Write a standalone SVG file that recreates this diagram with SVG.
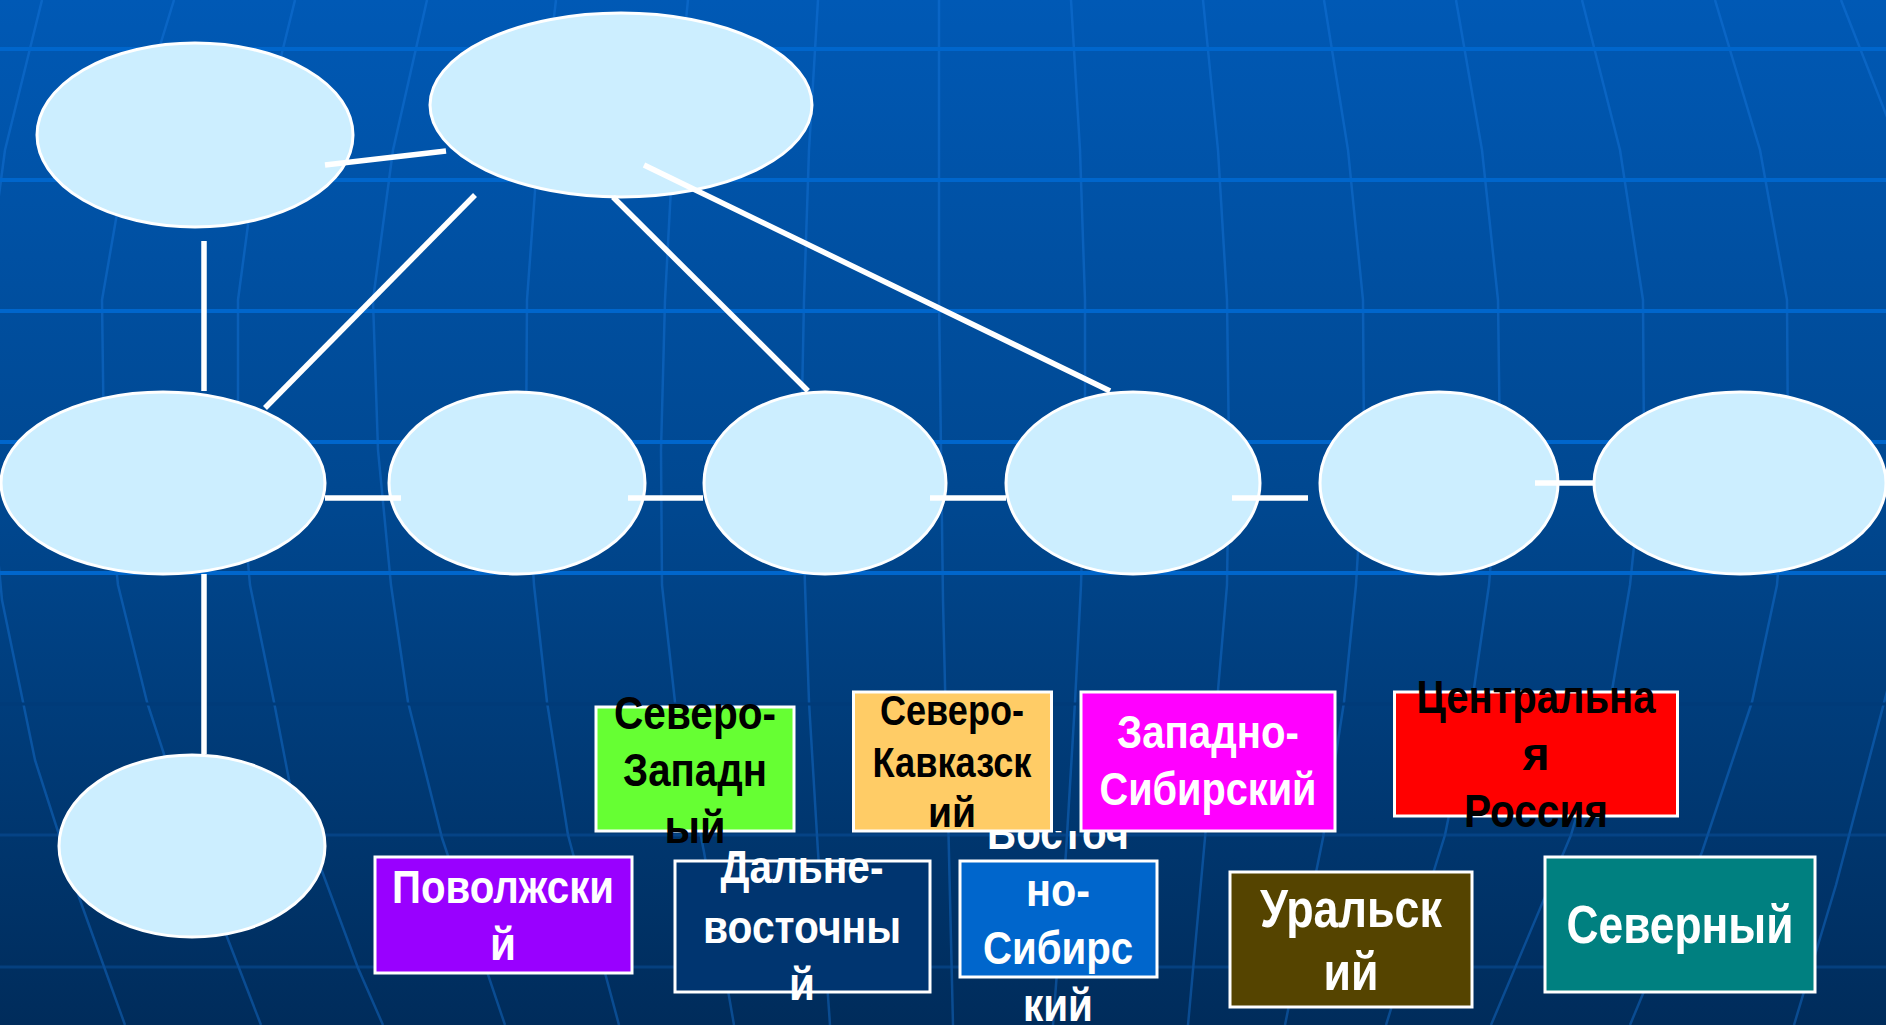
<svg xmlns="http://www.w3.org/2000/svg" width="1886" height="1025" viewBox="0 0 1886 1025">
<defs>
<linearGradient id="bg" x1="0" y1="0" x2="0" y2="1">
<stop offset="0" stop-color="#0059b5"/>
<stop offset="0.5" stop-color="#00478f"/>
<stop offset="1" stop-color="#002c5b"/>
</linearGradient>
<clipPath id="cutTop"><rect x="900" y="831" width="300" height="194"/></clipPath>
</defs>
<style>
.mer{fill:none;stroke:#1a7ae0;stroke-opacity:0.4;stroke-width:2.5;stroke-linejoin:round}
.par{stroke:#0066cc;stroke-width:4}
.par2{stroke:#0a4f99;stroke-opacity:0.55;stroke-width:3}
.ell{fill:#cceeff;stroke:#ffffff;stroke-width:3}
.con{stroke:#ffffff;stroke-width:5.5;fill:none}
.box{stroke:#ffffff;stroke-width:3}
.t{font-family:"Liberation Sans",Arial,sans-serif;font-weight:bold;text-anchor:middle}
.w{fill:#ffffff}
.k{fill:#000000}
</style>
<rect x="0" y="0" width="1886" height="1025" fill="url(#bg)"/>
<g id="grid">
<polyline class="mer" points="42,0 5,150 -15,300 -12,450 2,600 35,760 80,900 125,1025"/>
<polyline class="mer" points="174,0 128,150 102,300 104,450 118,585 147,702 205,880 261,1025"/>
<polyline class="mer" points="295,0 258,150 238,300 238,450 250,585 274,702 290,785 358,968 383,1025"/>
<polyline class="mer" points="427,0 393,150 373,300 378,450 391,585 408,702 442,838 505,1025"/>
<polyline class="mer" points="556,0 538,150 527,300 526,450 534,585 547,702 568,835 619,1025"/>
<polyline class="mer" points="688,0 673,150 665,300 661,450 662,585 675,702 704,852 734,1025"/>
<polyline class="mer" points="818,0 809,150 804,300 801,450 805,585 809,702 818,852 830,1025"/>
<polyline class="mer" points="939,0 939,300 943,600 953,1025"/>
<polyline class="mer" points="1071,0 1080,150 1085,300 1085,450 1081,585 1075,702 1066,852 1053,1025"/>
<polyline class="mer" points="1203,0 1218,150 1227,300 1229,450 1227,585 1217,702 1205,838 1188,1025"/>
<polyline class="mer" points="1324,0 1348,150 1363,300 1364,450 1356,585 1344,702 1323,838 1285,1025"/>
<polyline class="mer" points="1456,0 1482,150 1498,300 1500,450 1489,585 1472,702 1445,835 1386,1025"/>
<polyline class="mer" points="1582,0 1620,150 1643,300 1644,450 1630,585 1610,702 1571,835 1491,1025"/>
<polyline class="mer" points="1715,0 1760,150 1787,300 1788,450 1777,585 1752,702 1702,852 1630,1025"/>
<polyline class="mer" points="1841,0 1900,150 1930,300 1930,450 1915,585 1890,680 1836,885 1794,1025"/>
<line class="par" x1="0" y1="49" x2="1886" y2="49"/>
<line class="par" x1="0" y1="180" x2="1886" y2="180"/>
<line class="par" x1="0" y1="311" x2="1886" y2="311"/>
<line class="par" x1="0" y1="442" x2="1886" y2="442"/>
<line class="par" x1="0" y1="573" x2="1886" y2="573"/>
<line x1="0" y1="704" x2="1886" y2="704" stroke="#003b79" stroke-width="3"/>
<line class="par2" x1="0" y1="835" x2="1886" y2="835"/>
<line class="par2" x1="0" y1="967" x2="1886" y2="967"/>
</g>
<g id="n-a"><ellipse class="ell" cx="195" cy="135" rx="158" ry="92"/></g>
<g id="n-b"><ellipse class="ell" cx="621" cy="105" rx="191" ry="92" stroke-width="4"/></g>
<g id="n-c"><ellipse class="ell" cx="163" cy="483" rx="162" ry="91"/></g>
<g id="n-d"><ellipse class="ell" cx="517" cy="483" rx="128" ry="91"/></g>
<g id="n-e"><ellipse class="ell" cx="825" cy="483" rx="121" ry="91"/></g>
<g id="n-f"><ellipse class="ell" cx="1133" cy="483" rx="127" ry="91"/></g>
<g id="n-g"><ellipse class="ell" cx="1439" cy="483" rx="119" ry="91"/></g>
<g id="n-h"><ellipse class="ell" cx="1740" cy="483" rx="146" ry="91"/></g>
<g id="n-i"><ellipse class="ell" cx="192" cy="846" rx="133" ry="91"/></g>
<g id="connectors">
<line class="con" x1="325" y1="165" x2="446" y2="151" stroke-width="6"/>
<line class="con" x1="204" y1="241" x2="204" y2="391"/>
<line class="con" x1="475" y1="195" x2="265" y2="408"/>
<line class="con" x1="613" y1="197" x2="808" y2="391"/>
<line class="con" x1="644" y1="165" x2="1110" y2="391"/>
<line class="con" x1="204" y1="574" x2="204" y2="754"/>
<line class="con" x1="325" y1="498" x2="401" y2="498" stroke-width="6"/>
<line class="con" x1="628" y1="498" x2="703" y2="498" stroke-width="6"/>
<line class="con" x1="930" y1="498" x2="1006" y2="498" stroke-width="6"/>
<line class="con" x1="1232" y1="498" x2="1308" y2="498" stroke-width="6"/>
<line class="con" x1="1535" y1="483" x2="1595" y2="483" stroke-width="6"/>
</g>
<g id="n-vsib">
<rect class="box" x="960" y="861" width="197" height="116" fill="#0066cc"/>
<g clip-path="url(#cutTop)">
<text class="t w" font-size="47" x="1058" y="849" textLength="142" lengthAdjust="spacingAndGlyphs">Восточ</text>
</g>
<text class="t w" font-size="47" x="1058" y="906" textLength="64" lengthAdjust="spacingAndGlyphs">но-</text>
<text class="t w" font-size="47" x="1058" y="964" textLength="150" lengthAdjust="spacingAndGlyphs">Сибирс</text>
<text class="t w" font-size="47" x="1058" y="1021" textLength="70" lengthAdjust="spacingAndGlyphs">кий</text>
</g>
<g id="n-szfo">
<rect class="box" x="596" y="707" width="198" height="124" fill="#66ff33"/>
<text class="t k" font-size="47" x="695" y="729" textLength="162" lengthAdjust="spacingAndGlyphs">Северо-</text>
<text class="t k" font-size="47" x="695" y="786" textLength="144" lengthAdjust="spacingAndGlyphs">Западн</text>
<text class="t k" font-size="47" x="695" y="843" textLength="61" lengthAdjust="spacingAndGlyphs">ый</text>
</g>
<g id="n-skfo">
<rect class="box" x="853.5" y="692" width="198" height="139" fill="#ffcc66"/>
<text class="t k" font-size="43" x="952" y="725" textLength="144" lengthAdjust="spacingAndGlyphs">Северо-</text>
<text class="t k" font-size="43" x="952" y="777" textLength="159" lengthAdjust="spacingAndGlyphs">Кавказск</text>
<text class="t k" font-size="43" x="952" y="827" textLength="48" lengthAdjust="spacingAndGlyphs">ий</text>
</g>
<g id="n-zsib">
<rect class="box" x="1081" y="692" width="254" height="139" fill="#ff00ff"/>
<text class="t w" font-size="47" x="1208" y="748" textLength="182" lengthAdjust="spacingAndGlyphs">Западно-</text>
<text class="t w" font-size="47" x="1208" y="805" textLength="217" lengthAdjust="spacingAndGlyphs">Сибирский</text>
</g>
<g id="n-centr">
<rect class="box" x="1394.5" y="692" width="283" height="124" fill="#ff0000"/>
<text class="t k" font-size="47" x="1536" y="713" textLength="239" lengthAdjust="spacingAndGlyphs">Центральна</text>
<text class="t k" font-size="47" x="1536" y="770" textLength="27" lengthAdjust="spacingAndGlyphs">я</text>
<text class="t k" font-size="47" x="1536" y="827" textLength="144" lengthAdjust="spacingAndGlyphs">Россия</text>
</g>
<g id="n-povol">
<rect class="box" x="375" y="857" width="257" height="116" fill="#9900ff"/>
<text class="t w" font-size="47" x="503" y="903" textLength="222" lengthAdjust="spacingAndGlyphs">Поволжски</text>
<text class="t w" font-size="47" x="503" y="960" textLength="26" lengthAdjust="spacingAndGlyphs">й</text>
</g>
<g id="n-dv">
<rect class="box" x="675" y="861" width="255" height="131" fill="#003570"/>
<text class="t w" font-size="46" x="802" y="883" textLength="163" lengthAdjust="spacingAndGlyphs">Дальне-</text>
<text class="t w" font-size="46" x="802" y="943" textLength="198" lengthAdjust="spacingAndGlyphs">восточны</text>
<text class="t w" font-size="46" x="802" y="1000" textLength="26" lengthAdjust="spacingAndGlyphs">й</text>
</g>
<g id="n-ural">
<rect class="box" x="1230" y="872" width="242" height="135" fill="#554400"/>
<text class="t w" font-size="53" x="1351" y="927" textLength="182" lengthAdjust="spacingAndGlyphs">Уральск</text>
<text class="t w" font-size="53" x="1351" y="990" textLength="55" lengthAdjust="spacingAndGlyphs">ий</text>
</g>
<g id="n-sev">
<rect class="box" x="1545" y="857" width="270" height="135" fill="#008080"/>
<text class="t w" font-size="53" x="1680" y="943" textLength="227" lengthAdjust="spacingAndGlyphs">Северный</text>
</g>
</svg>
